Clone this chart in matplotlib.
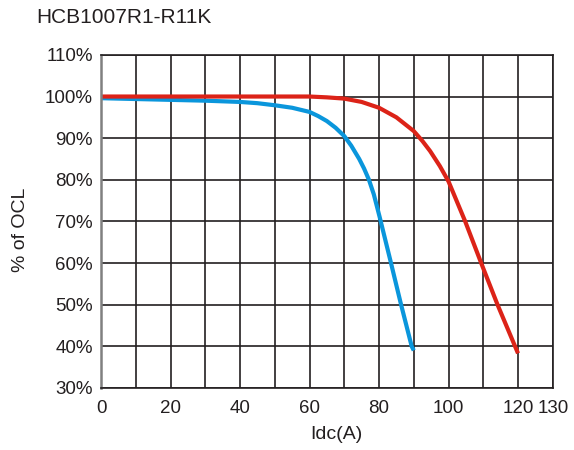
import matplotlib
matplotlib.use('Agg')
import matplotlib.pyplot as plt
import numpy as np

plt.rcParams['font.family'] = ['Liberation Sans', 'DejaVu Sans']

title = 'HCB1007R1-R11K'

# blue curve
blue_x = [0, 10, 20, 30, 40, 45, 50, 55, 60, 62.5, 65, 67.5, 70, 72, 74.3, 75.7, 77.1,
          78.5, 80.2, 83.3, 86.2, 89.4, 90]
blue_y = [99.6, 99.4, 99.2, 99.0, 98.7, 98.4, 97.9, 97.3, 96.3, 95.3, 94.1, 92.5, 90.5, 88.2, 85.0, 82.7, 80.0,
          76.5, 71.0, 60.5, 50.5, 40.0, 39.0]

# red curve
red_x = [0, 20, 40, 60, 65, 70, 75, 80, 85, 90, 92.5, 94.7, 97.5, 100, 104.8, 109.4, 114.1, 120]
red_y = [100, 100, 100, 100, 99.8, 99.5, 98.7, 97.3, 95.0, 91.7, 89.3, 86.9, 83.3, 79.6, 70.0, 60.0, 50.0, 38.3]

xticks = np.arange(0, 131, 20).tolist() + [130]
yticks = np.arange(30, 111, 10)

fig = plt.figure(figsize=(5.74, 4.5), dpi=100)
ax = fig.add_axes([0.176, 0.138, 0.787, 0.740])

ax.set_xlim(0, 130)
ax.set_ylim(30, 110)
ax.set_xticks(xticks)
ax.set_xticks(np.arange(0, 131, 10), minor=True)
ax.set_yticks(yticks)
ax.set_yticklabels(['%d%%' % v for v in yticks])
ax.grid(True, which='both', color='#231f20', linewidth=1.2)
ax.tick_params(which='both', length=0, labelsize=13.5, colors='#231f20')
ax.tick_params(axis='y', pad=6)
ax.tick_params(axis='x', pad=9)
ax.set_axisbelow(True)

for s in ax.spines.values():
    s.set_color('#231f20')
    s.set_linewidth(1.2)
ax.spines['left'].set_color('#808080')
ax.spines['left'].set_linewidth(1.8)

ax.plot(blue_x, blue_y, color='#0a96dc', linewidth=3, solid_capstyle='butt')
ax.plot(red_x, red_y, color='#dc2318', linewidth=3, solid_capstyle='butt')

ax.set_xlabel('Idc(A)', fontsize=14, color='#231f20')
ax.set_ylabel('% of OCL', fontsize=14, color='#231f20')
ax.xaxis.set_label_coords(0.52, -0.115)
ax.yaxis.set_label_coords(-0.16, 0.474)

fig.text(0.064, 0.962, title, fontsize=15, color='#231f20', va='center', ha='left')

fig.savefig('out.png', dpi=100)
